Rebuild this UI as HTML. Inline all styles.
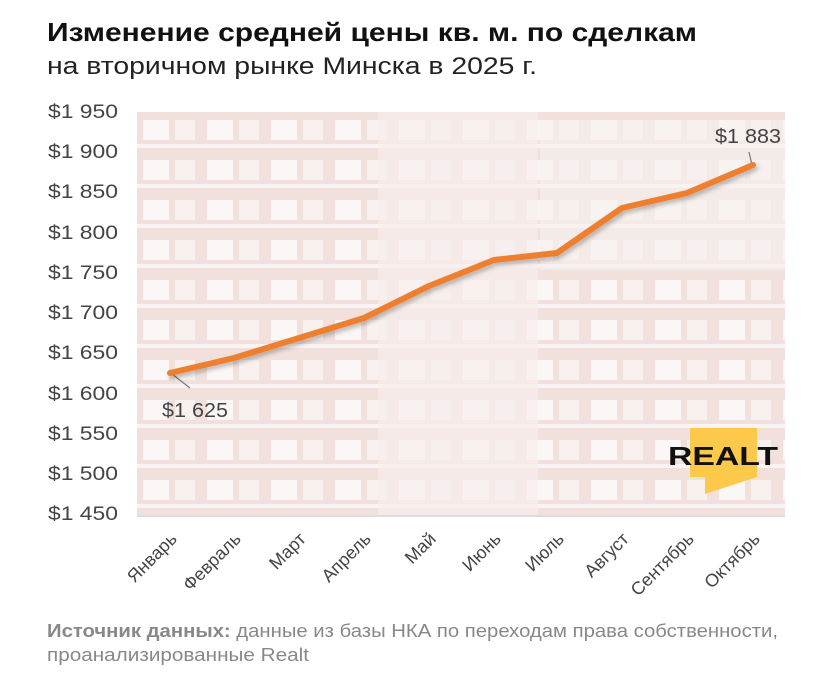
<!DOCTYPE html>
<html><head><meta charset="utf-8"><style>
body{margin:0;background:#fff;width:835px;height:687px;overflow:hidden;font-family:"Liberation Sans",sans-serif;}
</style></head><body>
<svg width="835" height="687" xmlns="http://www.w3.org/2000/svg" font-family="Liberation Sans, sans-serif">
<defs>
<pattern id="win" x="137" y="112" width="64" height="40" patternUnits="userSpaceOnUse">
<rect width="64" height="40" fill="#f1e0db"/>
<rect x="6" y="8" width="26" height="20" fill="#fbf7f6"/>
<rect x="38" y="8" width="20" height="20" fill="#f8f1ef"/>
<rect x="0" y="32" width="64" height="4" fill="#faf5f4"/>
</pattern>
<filter id="sh"><feDropShadow dx="2" dy="3" stdDeviation="2" flood-color="#000" flood-opacity="0.25"/></filter>
</defs>
<text x="47" y="41" font-size="26" font-weight="bold" fill="#111" textLength="650" lengthAdjust="spacingAndGlyphs">Изменение средней цены кв. м. по сделкам</text>
<text x="47" y="74" font-size="24" fill="#222" textLength="490" lengthAdjust="spacingAndGlyphs">на вторичном рынке Минска в 2025 г.</text>
<rect x="137" y="112" width="648" height="403" fill="url(#win)"/>
<rect x="378" y="112" width="160" height="403" fill="#f6eeec" opacity="0.7"/>
<rect x="540" y="120" width="245" height="150" fill="#f7f0ee" opacity="0.6"/>
<rect x="137" y="515" width="648" height="2" fill="#ddd"/>
<g font-size="19" fill="#444" text-anchor="end">
<text x="118" y="118" textLength="70" lengthAdjust="spacingAndGlyphs">$1 950</text><text x="118" y="158" textLength="70" lengthAdjust="spacingAndGlyphs">$1 900</text><text x="118" y="198" textLength="70" lengthAdjust="spacingAndGlyphs">$1 850</text>
<text x="118" y="239" textLength="70" lengthAdjust="spacingAndGlyphs">$1 800</text><text x="118" y="279" textLength="70" lengthAdjust="spacingAndGlyphs">$1 750</text><text x="118" y="319" textLength="70" lengthAdjust="spacingAndGlyphs">$1 700</text>
<text x="118" y="359" textLength="70" lengthAdjust="spacingAndGlyphs">$1 650</text><text x="118" y="400" textLength="70" lengthAdjust="spacingAndGlyphs">$1 600</text><text x="118" y="440" textLength="70" lengthAdjust="spacingAndGlyphs">$1 550</text>
<text x="118" y="480" textLength="70" lengthAdjust="spacingAndGlyphs">$1 500</text><text x="118" y="520" textLength="70" lengthAdjust="spacingAndGlyphs">$1 450</text>
</g>
<line x1="172" y1="374" x2="190" y2="388" stroke="#777" stroke-width="1.2"/>
<line x1="752" y1="165" x2="749" y2="152" stroke="#777" stroke-width="1.2"/>
<polyline filter="url(#sh)" points="170,373 234,358 299,338 364,318 429,286 494,260 557,253 622,208 687,193 753,165" fill="none" stroke="#ee7f2f" stroke-width="6" stroke-linejoin="round" stroke-linecap="round"/>
<text x="162" y="417" font-size="20" fill="#444" textLength="66" lengthAdjust="spacingAndGlyphs">$1 625</text>
<text x="715" y="143" font-size="20" fill="#444" textLength="66" lengthAdjust="spacingAndGlyphs">$1 883</text>
<polygon points="690,428 757,428 757,477 705,494 705,477 690,477" fill="#fdc94a"/>
<text x="668" y="465" font-size="26" font-weight="900" fill="#111" textLength="110" lengthAdjust="spacingAndGlyphs">REALT</text>
<g font-size="18" fill="#444" text-anchor="end">
<text transform="translate(178,540) rotate(-45)">Январь</text>
<text transform="translate(242,540) rotate(-45)">Февраль</text>
<text transform="translate(307,540) rotate(-45)">Март</text>
<text transform="translate(372,540) rotate(-45)">Апрель</text>
<text transform="translate(437,540) rotate(-45)">Май</text>
<text transform="translate(502,540) rotate(-45)">Июнь</text>
<text transform="translate(565,540) rotate(-45)">Июль</text>
<text transform="translate(630,540) rotate(-45)">Август</text>
<text transform="translate(695,540) rotate(-45)">Сентябрь</text>
<text transform="translate(761,540) rotate(-45)">Октябрь</text>
</g>
<text x="47" y="637" font-size="18" fill="#888" textLength="731" lengthAdjust="spacingAndGlyphs"><tspan font-weight="bold">Источник данных:</tspan> данные из базы НКА по переходам права собственности,</text>
<text x="47" y="661" font-size="18" fill="#888" textLength="262" lengthAdjust="spacingAndGlyphs">проанализированные Realt</text>
</svg>
</body></html>
